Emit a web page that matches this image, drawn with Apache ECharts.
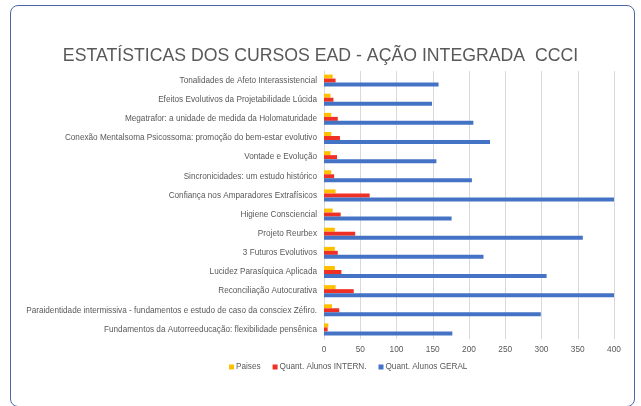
<!DOCTYPE html>
<html>
<head>
<meta charset="utf-8">
<script src="https://cdn.jsdelivr.net/npm/echarts@6/dist/echarts.min.js"></script>
<style>
  html, body { margin: 0; padding: 0; background: #fff; }
  #frame {
    position: absolute; left: 10px; top: 5px; width: 625px; height: 402px;
    border: 1.5px solid #4e67a3; border-radius: 8px; box-sizing: border-box;
  }
  #chart { position: absolute; left: 0; top: 0; width: 641px; height: 406px; }
</style>
</head>
<body>
<div id="frame"></div>
<div id="chart"></div>
<script>
const cursos = [
  'Tonalidades de Afeto Interassistencial',
  'Efeitos Evolutivos da Projetabilidade Lúcida',
  'Megatrafor: a unidade de medida da Holomaturidade',
  'Conexão Mentalsoma Psicossoma: promoção do bem-estar evolutivo',
  'Vontade e Evolução',
  'Sincronicidades: um estudo histórico',
  'Confiança nos Amparadores Extrafísicos',
  'Higiene Consciencial',
  'Projeto Reurbex',
  '3 Futuros Evolutivos',
  'Lucidez Parasíquica Aplicada',
  'Reconciliação Autocurativa',
  'Paraidentidade intermissiva - fundamentos e estudo de caso da consciex Zéfiro.',
  'Fundamentos da Autorreeducação: flexibilidade pensênica'
]
const paises = [12, 9, 10, 10, 9, 10, 16, 12, 15, 15, 15, 16, 11, 6]
const alunosIntern = [16, 13, 19, 22, 18, 14, 63, 23, 43, 19, 24, 41, 21, 5]
const alunosGeral = [158, 149, 206, 229, 155, 204, 400, 176, 357, 220, 307, 400, 299, 177]

const textColor = '#595959'
const myChart = echarts.init(document.getElementById('chart'))

const bar = (name, data, color) => ({
  name: name,
  type: 'bar',
  data: data,
  barWidth: 4,
  barGap: '0%',
  itemStyle: { color: color },
  emphasis: { disabled: true }
})

myChart.setOption({
  animation: false,
  title: {
    text: 'ESTATÍSTICAS DOS CURSOS EAD - AÇÃO INTEGRADA  CCCI',
    left: 'center',
    top: 42,
    textStyle: {
      fontFamily: 'Liberation Sans',
      fontSize: 17.7,
      fontWeight: 'normal',
      color: textColor
    }
  },
  legend: {
    left: 224,
    top: 358,
    itemWidth: 5,
    itemHeight: 5,
    itemGap: 12,
    icon: 'rect',
    textStyle: { fontFamily: 'Liberation Sans', fontSize: 8.2, color: textColor, padding: [0, 0, 0, -3] }
  },
  grid: { left: 324, right: 27, top: 71, bottom: 67, containLabel: false },
  xAxis: {
    type: 'value',
    min: 0,
    max: 400,
    interval: 50,
    axisLine: { show: false },
    axisTick: { show: false },
    axisLabel: { fontFamily: 'Liberation Sans', fontSize: 8.3, color: textColor, margin: 7 },
    splitLine: { lineStyle: { color: '#d9d9d9' } }
  },
  yAxis: {
    type: 'category',
    inverse: true,
    data: cursos,
    axisLine: { lineStyle: { color: '#d9d9d9' } },
    axisTick: { show: false },
    axisLabel: { fontFamily: 'Liberation Sans', fontSize: 8.2, color: textColor, margin: 7 }
  },
  series: [
    bar('Paises', paises, '#ffc000'),
    bar('Quant. Alunos INTERN.', alunosIntern, '#ee3124'),
    bar('Quant. Alunos GERAL', alunosGeral, '#4472c4')
  ]
})
</script>
</body>
</html>
